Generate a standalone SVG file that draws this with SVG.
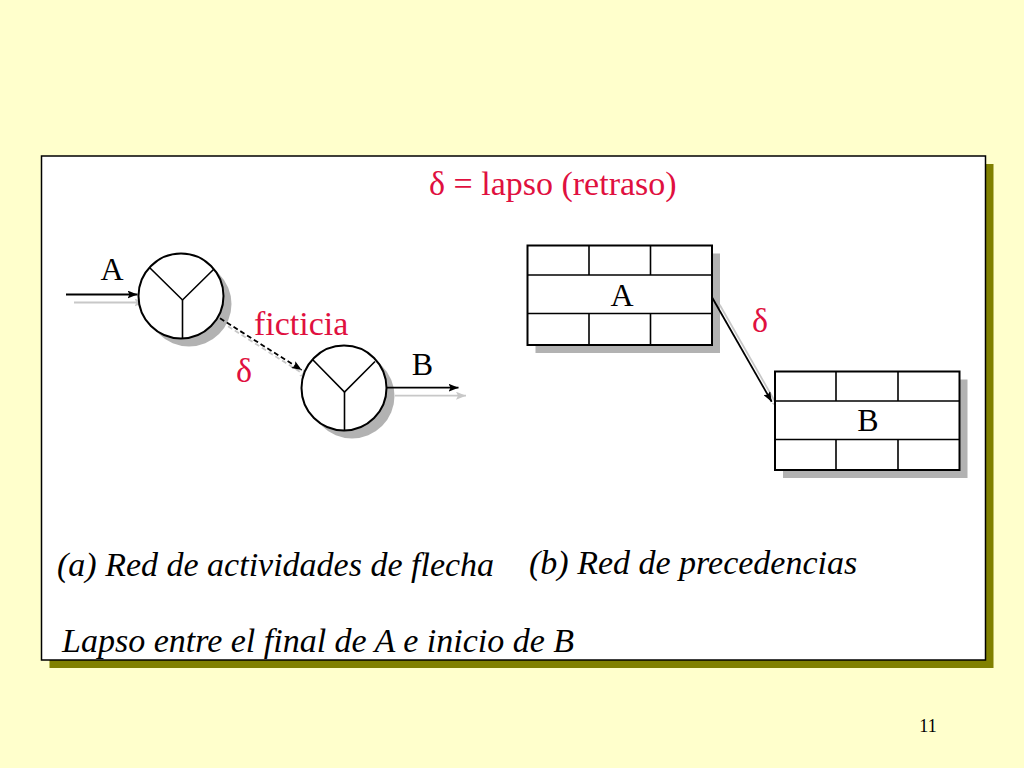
<svg xmlns="http://www.w3.org/2000/svg" width="1024" height="768" viewBox="0 0 1024 768">
  <defs>
    <style>
      .bg { fill: #FFFFCC; }
      .frame { fill: #FFFFFF; stroke: #000000; stroke-width: 1.5; }
      .frame-shadow { fill: #808000; }
      .shadow { fill: #B2B2B2; }
      .node { fill: #FFFFFF; stroke: #000000; stroke-width: 2; }
      .div { stroke: #000000; stroke-width: 1.6; fill: none; }
      .conn { stroke: #000000; stroke-width: 1.8; fill: none; }
      .conn-shadow { stroke: #C8C8C8; stroke-width: 1.8; fill: none; }
      .dash { stroke-dasharray: 5 3; }
      .txt { font-family: "Liberation Serif", "Times New Roman", serif; font-size: 34px; fill: #000000; }
      .lbl { font-family: "Liberation Serif", "Times New Roman", serif; font-size: 32px; fill: #000000; }
      .red { fill: #E0103F; }
      .ital { font-style: italic; }
      .pg { font-family: "Liberation Serif", "Times New Roman", serif; font-size: 18px; fill: #000000; }
    </style>
    <marker id="arrow" viewBox="0 0 10 8" refX="10" refY="4" markerWidth="10" markerHeight="8" markerUnits="userSpaceOnUse" orient="auto">
      <path d="M0,0 L10,4 L0,8 L2,4 z" fill="#000000"/>
    </marker>
    <marker id="arrow-shadow" viewBox="0 0 10 8" refX="10" refY="4" markerWidth="10" markerHeight="8" markerUnits="userSpaceOnUse" orient="auto">
      <path d="M0,0 L10,4 L0,8 L2,4 z" fill="#C8C8C8"/>
    </marker>
  </defs>

  <rect class="bg" x="0" y="0" width="1024" height="768"/>

  <g id="frame">
    <rect class="frame-shadow" x="49.5" y="164" width="944" height="504"/>
    <rect class="frame" x="41.5" y="156" width="944" height="504"/>
  </g>

  <text id="title" class="txt red" x="429" y="195">δ = lapso (retraso)</text>

  <g id="node-shadows">
    <circle class="shadow" cx="189" cy="304" r="42.5"/>
    <circle class="shadow" cx="352" cy="396" r="42.5"/>
    <rect class="shadow" x="535.5" y="253.5" width="184.5" height="99.5"/>
    <rect class="shadow" x="783" y="379.5" width="184.5" height="98.5"/>
  </g>

  <g id="connector-shadows">
    <line class="conn-shadow" x1="74" y1="302.5" x2="144.5" y2="302.5" marker-end="url(#arrow-shadow)"/>
    <line class="conn-shadow dash" x1="228" y1="326.3" x2="309.7" y2="378" marker-end="url(#arrow-shadow)"/>
    <line class="conn-shadow" x1="395" y1="395.7" x2="466" y2="395.7" marker-end="url(#arrow-shadow)"/>
    <line class="conn-shadow" x1="719.7" y1="304.7" x2="779.7" y2="409.7" marker-end="url(#arrow-shadow)"/>
  </g>

  <g id="node-event-1">
    <circle class="node" cx="181" cy="296" r="42.5"/>
    <polyline class="div" points="150,268 182.5,300 214,269"/>
    <line class="div" x1="182.5" y1="300" x2="182.5" y2="338.5"/>
  </g>

  <g id="node-event-2">
    <circle class="node" cx="344" cy="388" r="42.5"/>
    <polyline class="div" points="313,360 344.5,392 375,361.5"/>
    <line class="div" x1="344.5" y1="392" x2="344.5" y2="430.5"/>
  </g>

  <g id="node-A">
    <rect class="node" x="527.5" y="245.5" width="184.5" height="99.5"/>
    <line class="div" x1="527.5" y1="275" x2="712" y2="275"/>
    <line class="div" x1="527.5" y1="313.5" x2="712" y2="313.5"/>
    <line class="div" x1="589" y1="245.5" x2="589" y2="275"/>
    <line class="div" x1="650.5" y1="245.5" x2="650.5" y2="275"/>
    <line class="div" x1="589" y1="313.5" x2="589" y2="345"/>
    <line class="div" x1="650.5" y1="313.5" x2="650.5" y2="345"/>
    <text class="lbl" x="622" y="306" text-anchor="middle">A</text>
  </g>

  <g id="node-B">
    <rect class="node" x="775" y="371.5" width="184.5" height="98.5"/>
    <line class="div" x1="775" y1="401" x2="959.5" y2="401"/>
    <line class="div" x1="775" y1="439.5" x2="959.5" y2="439.5"/>
    <line class="div" x1="836" y1="371.5" x2="836" y2="401"/>
    <line class="div" x1="898" y1="371.5" x2="898" y2="401"/>
    <line class="div" x1="836" y1="439.5" x2="836" y2="470"/>
    <line class="div" x1="898" y1="439.5" x2="898" y2="470"/>
    <text class="lbl" x="868" y="431" text-anchor="middle">B</text>
  </g>

  <g id="connectors">
    <line class="conn" x1="66" y1="294.5" x2="137.5" y2="294.5" marker-end="url(#arrow)"/>
    <text class="lbl" x="112" y="280" text-anchor="middle">A</text>
    <line class="conn dash" x1="220" y1="318.3" x2="301.7" y2="370" marker-end="url(#arrow)"/>
    <text class="txt red" x="254" y="335">ficticia</text>
    <text class="txt red" x="244" y="382" text-anchor="middle">δ</text>
    <line class="conn" x1="387" y1="387.7" x2="458.5" y2="387.7" marker-end="url(#arrow)"/>
    <text class="lbl" x="422.5" y="375" text-anchor="middle">B</text>
    <line class="conn" x1="711.7" y1="296.7" x2="771.7" y2="401.7" marker-end="url(#arrow)"/>
    <text class="txt red" x="760" y="332" text-anchor="middle">δ</text>
  </g>

  <g id="captions">
    <text class="txt ital" x="57" y="576">(a) Red de actividades de flecha</text>
    <text class="txt ital" x="529" y="574">(b) Red de precedencias</text>
    <text class="txt ital" x="62" y="652">Lapso entre el final de A e inicio de B</text>
  </g>

  <text id="page-number" class="pg" x="928" y="732" text-anchor="middle">11</text>
</svg>
